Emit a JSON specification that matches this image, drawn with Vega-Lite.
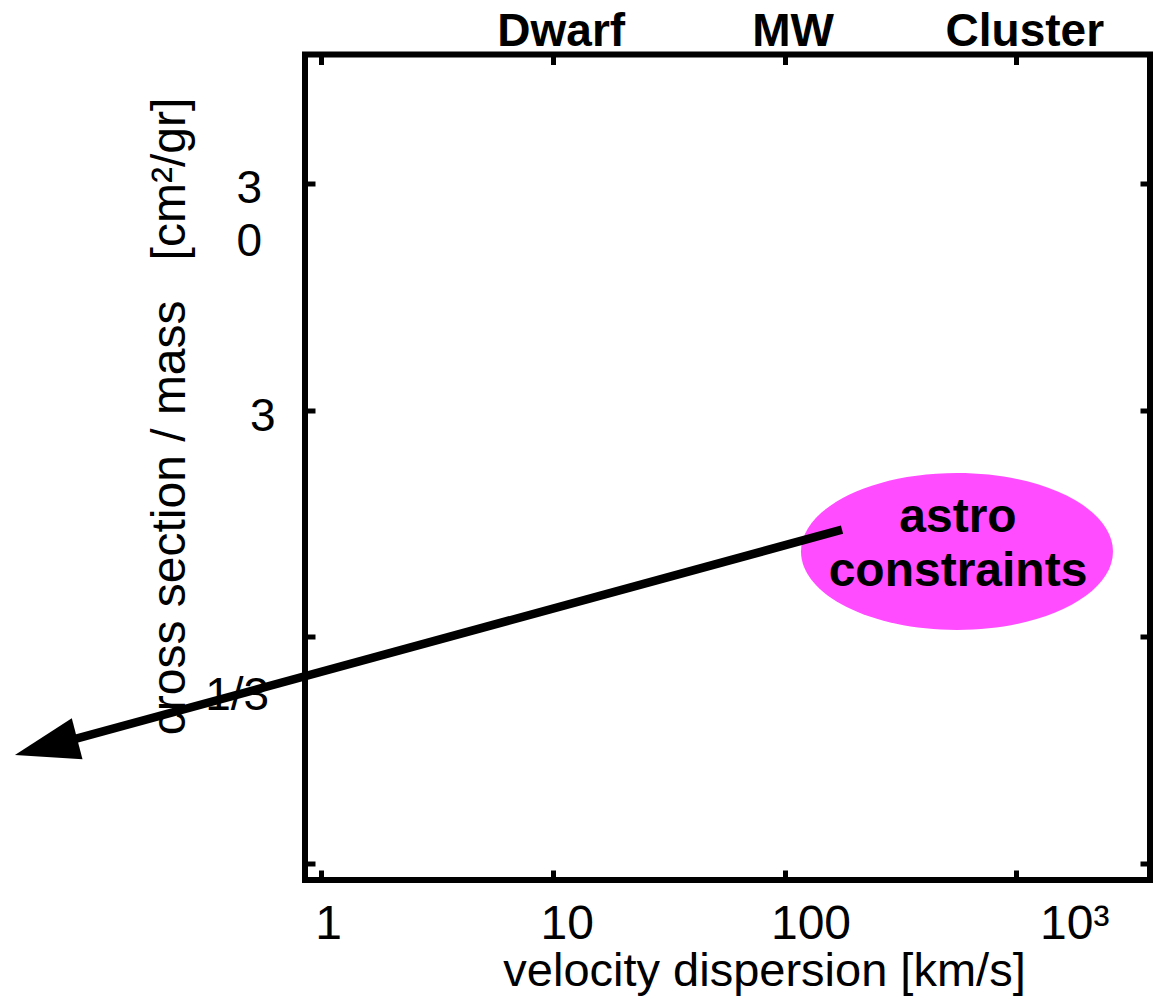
{
  "$schema": "https://vega.github.io/schema/vega-lite/v6.json",
  "autosize": {"type": "none"},
  "padding": {"left": 305, "top": 54.5, "right": 6, "bottom": 120},
  "width": 845,
  "height": 825.5,
  "background": "white",
  "config": {
    "view": {"stroke": "black", "strokeWidth": 6},
    "font": "Liberation Sans"
  },
  "datasets": {
    "region": [{"v": 554.8, "s": 0.7146, "label": "astro constraints"}],
    "arrow": [
      {"v": 177.0, "s": 0.892},
      {"v": 0.0651, "s": 0.0981}
    ],
    "head": [{"v": 0.0651, "s": 0.0981}]
  },
  "resolve": {"axis": {"x": "independent", "y": "independent"}},
  "layer": [
    {
      "data": {"name": "region"},
      "mark": {
        "type": "point",
        "shape": "M-1,0C-1,-0.278,-0.552,-0.503,0,-0.503C0.552,-0.503,1,-0.278,1,0C1,0.278,0.552,0.503,0,0.503C-0.552,0.503,-1,0.278,-1,0Z",
        "size": 97344,
        "filled": true,
        "color": "#ff4cff",
        "opacity": 1,
        "strokeWidth": 0
      },
      "encoding": {
        "x": {
          "field": "v", "type": "quantitative",
          "scale": {"type": "log", "domain": [0.853, 3775], "nice": false},
          "axis": {
            "orient": "bottom",
            "values": [1, 10, 100, 1000],
            "domain": false, "grid": false,
            "tickSize": -10, "tickWidth": 5, "tickColor": "black",
            "labelFont": "Liberation Sans", "labelFontSize": 48, "labelColor": "black",
            "labelBaseline": "alphabetic", "labelAlign": "center",
            "labelPadding": 68, "labelFlush": false, "labelOverlap": false, "labelBound": false,
            "labelExpr": "datum.value < 5 ? '1' : datum.value < 50 ? '10' : datum.value < 500 ? '100' : '10³'",
            "labelOffset": {
              "condition": [
                {"test": "datum.value < 5", "value": 7},
                {"test": "datum.value < 50", "value": 14},
                {"test": "datum.value < 500", "value": 26}
              ],
              "value": 58
            },
            "title": "velocity dispersion [km/s]",
            "titleFont": "Liberation Sans", "titleFontSize": 47, "titleFontWeight": "normal", "titleColor": "black",
            "titleX": 459, "titleY": 105, "titleAlign": "center", "titleBaseline": "alphabetic", "titleAngle": 0
          }
        },
        "y": {
          "field": "s", "type": "quantitative",
          "scale": {"type": "log", "domain": [0.02532, 111.9], "nice": false},
          "axis": {
            "orient": "left",
            "values": [0.03, 0.3, 3, 30],
            "domain": false, "grid": false,
            "tickSize": -10, "tickWidth": 5, "tickColor": "black",
            "labelFont": "Liberation Sans", "labelFontSize": 46, "labelColor": "black",
            "labelAlign": "right", "labelBaseline": "middle", "labelLineHeight": 53,
            "labelFlush": false, "labelOverlap": false, "labelBound": false,
            "labelExpr": "datum.value > 10 ? ['3', '0'] : datum.value > 1 ? '3' : datum.value > 0.1 ? '1/3' : ''",
            "labelPadding": {
              "condition": [
                {"test": "datum.value > 10", "value": 53.5},
                {"test": "datum.value > 1", "value": 40}
              ],
              "value": 46.3
            },
            "labelOffset": {
              "condition": [
                {"test": "datum.value > 10", "value": 5},
                {"test": "datum.value > 1", "value": 5.6}
              ],
              "value": 58.6
            },
            "title": "cross section / mass\u00a0\u00a0\u00a0[cm²/gr]",
            "titleFont": "Liberation Sans", "titleFontSize": 48, "titleFontWeight": "normal", "titleColor": "black",
            "titleX": -121, "titleY": 361.5, "titleAngle": 270, "titleAlign": "center", "titleBaseline": "alphabetic"
          }
        }
      }
    },
    {
      "data": {"name": "arrow"},
      "mark": {"type": "line", "color": "black", "strokeWidth": 8.5, "strokeCap": "butt"},
      "encoding": {
        "x": {
          "field": "v", "type": "quantitative",
          "scale": {"type": "log", "domain": [0.853, 3775], "nice": false},
          "axis": {
            "orient": "top",
            "values": [1, 10, 100, 1000],
            "domain": false, "grid": false,
            "tickSize": -10, "tickWidth": 5, "tickColor": "black",
            "labelFont": "Liberation Sans", "labelFontSize": 46, "labelFontWeight": "bold", "labelColor": "black",
            "labelBaseline": "alphabetic", "labelAlign": "center",
            "labelPadding": 19.5, "labelOffset": 8, "labelFlush": false, "labelOverlap": false, "labelBound": false,
            "labelExpr": "datum.value < 5 ? '' : datum.value < 50 ? 'Dwarf' : datum.value < 500 ? 'MW' : 'Cluster'",
            "title": null
          }
        },
        "y": {
          "field": "s", "type": "quantitative",
          "scale": {"type": "log", "domain": [0.02532, 111.9], "nice": false},
          "axis": {
            "orient": "right",
            "values": [0.03, 0.3, 3, 30],
            "domain": false, "grid": false,
            "tickSize": -10, "tickWidth": 5, "tickColor": "black",
            "labels": false,
            "title": null
          }
        }
      }
    },
    {
      "data": {"name": "head"},
      "mark": {
        "type": "point",
        "shape": "M-1,0L1,-0.66L1,0.66Z",
        "size": 4134,
        "angle": 345.4,
        "filled": true,
        "color": "black",
        "opacity": 1,
        "strokeWidth": 0
      },
      "encoding": {
        "x": {"field": "v", "type": "quantitative", "scale": {"type": "log", "domain": [0.853, 3775], "nice": false}, "axis": null},
        "y": {"field": "s", "type": "quantitative", "scale": {"type": "log", "domain": [0.02532, 111.9], "nice": false}, "axis": null}
      }
    },
    {
      "data": {"name": "region"},
      "mark": {
        "type": "text",
        "font": "Liberation Sans",
        "fontWeight": "bold",
        "fontSize": 48,
        "lineBreak": " ",
        "lineHeight": 54,
        "align": "center",
        "baseline": "alphabetic",
        "dx": 1,
        "dy": -19.5,
        "color": "black"
      },
      "encoding": {
        "x": {"field": "v", "type": "quantitative", "scale": {"type": "log", "domain": [0.853, 3775], "nice": false}, "axis": null},
        "y": {"field": "s", "type": "quantitative", "scale": {"type": "log", "domain": [0.02532, 111.9], "nice": false}, "axis": null},
        "text": {"field": "label"}
      }
    }
  ]
}
